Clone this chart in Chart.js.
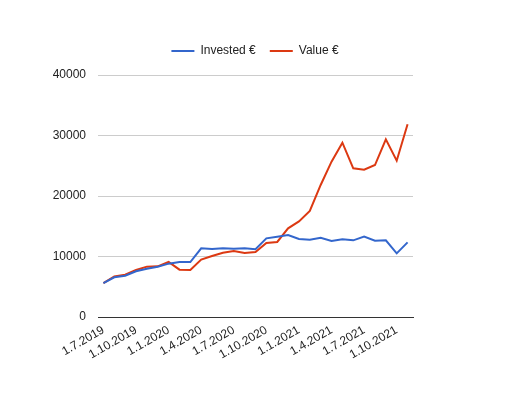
<!DOCTYPE html>
<html lang="en">
<head>
  <meta charset="UTF-8">
  <title>Invested vs Value</title>
  <script src="https://cdn.jsdelivr.net/npm/chart.js"></script>
  <style>
    html, body { margin: 0; padding: 0; background: #fff; }
    #wrap { width: 510px; height: 393px; }
  </style>
</head>
<body>
<div id="wrap"><canvas id="chart" width="510" height="393"></canvas></div>

<script>
  const months = [
    '1.7.2019', '1.8.2019', '1.9.2019', '1.10.2019', '1.11.2019', '1.12.2019',
    '1.1.2020', '1.2.2020', '1.3.2020', '1.4.2020', '1.5.2020', '1.6.2020',
    '1.7.2020', '1.8.2020', '1.9.2020', '1.10.2020', '1.11.2020', '1.12.2020',
    '1.1.2021', '1.2.2021', '1.3.2021', '1.4.2021', '1.5.2021', '1.6.2021',
    '1.7.2021', '1.8.2021', '1.9.2021', '1.10.2021', '1.11.2021'
  ];
  const invested = [
    5600, 6560, 6830, 7550, 7990, 8320, 8820, 9090, 9090, 11350,
    11240, 11350, 11300, 11350, 11190, 13000, 13280, 13550, 12890, 12780,
    13110, 12560, 12840, 12670, 13280, 12620, 12670, 10520, 12340
  ];
  const value = [
    5600, 6720, 7000, 7770, 8320, 8370, 9090, 7820, 7770, 9480,
    10080, 10630, 10910, 10580, 10740, 12230, 12400, 14660, 15810, 17520,
    21820, 25670, 28810, 24570, 24350, 25120, 29370, 25840, 31850
  ];
  const yTicks = [0, 10000, 20000, 30000, 40000];

  Chart.defaults.font.family = "'Liberation Sans', Arial, sans-serif";
  Chart.defaults.font.size = 12;
  Chart.defaults.color = '#222';

  // push the plot area down a bit below the legend
  const legendGap = {
    id: 'legendGap',
    beforeInit(chart) {
      const fit = chart.legend.fit;
      chart.legend.fit = function() {
        fit.bind(chart.legend)();
        this.height += 8;
      };
    }
  };

  new Chart(document.getElementById('chart'), {
    type: 'line',
    data: {
      labels: months,
      datasets: [
        { label: 'Invested €', data: invested, borderColor: '#3366cc', backgroundColor: '#3366cc',
          borderWidth: 2, pointRadius: 0, tension: 0 },
        { label: 'Value €', data: value, borderColor: '#dc3912', backgroundColor: '#dc3912',
          borderWidth: 2, pointRadius: 0, tension: 0 }
      ]
    },
    options: {
      responsive: false,
      animation: false,
      layout: { padding: { top: 31, left: 0, right: 0, bottom: 0 } },
      plugins: {
        legend: {
          position: 'top',
          labels: { usePointStyle: true, pointStyle: 'line', pointStyleWidth: 23, boxHeight: 12, padding: 14, color: '#222' }
        },
        tooltip: { enabled: false }
      },
      scales: {
        x: {
          offset: true,
          grid: { display: false, drawTicks: false },
          border: { display: true, color: '#333', width: 1 },
          ticks: {
            autoSkip: false, maxRotation: 30, minRotation: 30, padding: 6, color: '#222',
            callback: function(v, i) { return i % 3 === 0 ? months[i] : ''; }
          },
          afterFit: function(s) { s.height = 76; }
        },
        y: {
          min: 0, max: 40000,
          afterBuildTicks: function(s) { s.ticks = yTicks.map(v => ({ value: v })); },
          grid: { color: '#cccccc', drawTicks: false },
          border: { display: false },
          ticks: { padding: 12, color: '#222', callback: v => String(v) },
          afterFit: function(s) { s.width = 98; }
        },
        y2: {
          position: 'right',
          display: true,
          grid: { drawOnChartArea: false, drawTicks: false },
          border: { display: false },
          ticks: { display: false },
          afterFit: function(s) { s.width = 97; }
        }
      }
    },
    plugins: [legendGap]
  });
</script>
</body>
</html>
